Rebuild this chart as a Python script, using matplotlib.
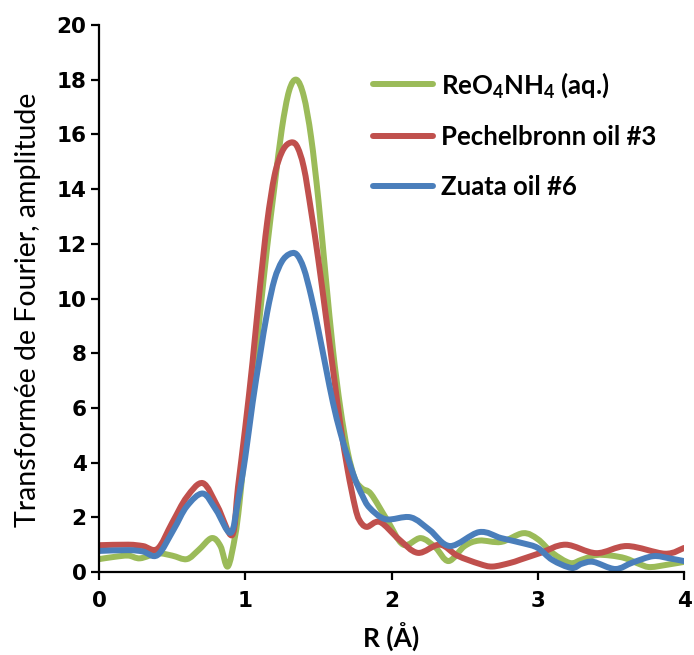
import matplotlib
matplotlib.use('Agg')
import matplotlib.pyplot as plt
from matplotlib.path import Path
from matplotlib.patches import PathPatch
from matplotlib.lines import Line2D
import numpy as np

plt.rcParams['mathtext.fontset'] = 'custom'
plt.rcParams['mathtext.rm'] = 'Lato'
plt.rcParams['mathtext.bf'] = 'Lato:bold'
plt.rcParams['mathtext.default'] = 'bf'

# ReO4NH4 (aq.)
x_reo4 = [0, 0.1, 0.2, 0.28, 0.4, 0.5, 0.6, 0.68, 0.77, 0.83, 0.88, 0.93, 0.96,
          1.0, 1.05, 1.1, 1.15, 1.2, 1.25, 1.3, 1.35, 1.4, 1.45, 1.5, 1.55, 1.6,
          1.65, 1.7, 1.75, 1.8, 1.86, 1.97, 2.08, 2.2, 2.3, 2.39, 2.5, 2.6, 2.75,
          2.9, 3.0, 3.1, 3.22, 3.3, 3.4, 3.5, 3.6, 3.7, 3.77, 3.9, 4.0]
y_reo4 = [0.47, 0.55, 0.6, 0.5, 0.68, 0.6, 0.47, 0.8, 1.24, 0.95, 0.2, 1.3, 2.5,
          4.6, 6.9, 9.4, 11.9, 14.1, 16.2, 17.6, 18.0, 17.4, 15.9, 13.6, 10.8, 8.1,
          6.0, 4.4, 3.4, 3.05, 2.85, 1.9, 1.0, 1.24, 0.9, 0.4, 0.95, 1.15, 1.1,
          1.42, 1.2, 0.7, 0.33, 0.45, 0.62, 0.6, 0.5, 0.28, 0.18, 0.28, 0.37]

# Pechelbronn oil #3
x_pech = [0, 0.2, 0.3, 0.4, 0.5, 0.6, 0.71, 0.81, 0.91, 0.95, 1.0, 1.05, 1.1,
          1.15, 1.2, 1.25, 1.3, 1.35, 1.4, 1.45, 1.5, 1.55, 1.6, 1.65, 1.7, 1.75,
          1.78, 1.83, 1.92, 2.05, 2.18, 2.33, 2.45, 2.6, 2.69, 2.81, 2.88, 3.02,
          3.19, 3.4, 3.61, 3.87, 4.0]
y_pech = [0.98, 1.0, 0.95, 0.85, 1.8, 2.74, 3.25, 2.4, 1.35, 3.1, 5.3, 7.7, 10.4,
          12.8, 14.5, 15.35, 15.68, 15.6, 14.8, 13.2, 11.4, 9.4, 7.4, 5.4, 3.73, 2.4,
          1.9, 1.65, 1.83, 1.2, 0.7, 1.0, 0.6, 0.3, 0.2, 0.33, 0.45, 0.7,
          1.0, 0.69, 0.95, 0.67, 0.88]

# Zuata oil #6
x_zuata = [0, 0.2, 0.3, 0.4, 0.51, 0.6, 0.71, 0.8, 0.90, 0.95, 1.0, 1.05, 1.1,
           1.15, 1.2, 1.25, 1.3, 1.35, 1.4, 1.45, 1.5, 1.55, 1.6, 1.65, 1.7, 1.75,
           1.8, 1.85, 1.96, 2.13, 2.26, 2.4, 2.6, 2.75, 2.9, 3.0, 3.1, 3.23, 3.3,
           3.38, 3.53, 3.65, 3.79, 3.9, 4.0]
y_zuata = [0.77, 0.8, 0.75, 0.62, 1.55, 2.4, 2.87, 2.27, 1.43, 2.6, 4.2, 6.18, 7.9,
           9.5, 10.7, 11.35, 11.62, 11.62, 11.1, 10.1, 8.85, 7.5, 6.18, 5.1, 4.2, 3.4,
           2.8, 2.35, 1.93, 2.0, 1.54, 0.95, 1.46, 1.24, 1.05, 0.88, 0.44, 0.15, 0.3,
           0.37, 0.11, 0.35, 0.58, 0.5, 0.4]

labels = [r'ReO$_4$NH$_4$ (aq.)', 'Pechelbronn oil #3', 'Zuata oil #6']
colors = ['#9BBB59', '#C0504D', '#4A7EBB']
LW = 4.3


def smooth_path(xs, ys):
    # Excel-style smoothed line: cubic Bezier through the data points
    p = np.column_stack([xs, ys])
    n = len(p)
    verts = [p[0]]
    codes = [Path.MOVETO]
    for i in range(n - 1):
        p0 = p[i - 1] if i > 0 else p[i]
        p3 = p[i + 2] if i + 2 < n else p[i + 1]
        c1 = p[i] + (p[i + 1] - p0) / 6
        c2 = p[i + 1] - (p3 - p[i]) / 6
        verts += [c1, c2, p[i + 1]]
        codes += [Path.CURVE4] * 3
    return Path(verts, codes)


fig = plt.figure(figsize=(6.94, 6.55), dpi=100)
ax = fig.add_axes([0.1427, 0.1267, 0.8429, 0.8351])

series = [(x_reo4, y_reo4), (x_pech, y_pech), (x_zuata, y_zuata)]
handles = []
for (xs, ys), c, lab in zip(series, colors, labels):
    ax.add_patch(PathPatch(smooth_path(xs, ys), facecolor='none', edgecolor=c,
                           lw=LW, capstyle='round', joinstyle='round'))
    handles.append(Line2D([], [], color=c, lw=LW, solid_capstyle='round', label=lab))

ax.set_xlim(0, 4)
ax.set_ylim(0, 20)
ax.set_xticks([0, 1, 2, 3, 4])
ax.set_yticks(range(0, 21, 2))
for s in ['top', 'right']:
    ax.spines[s].set_visible(False)
for s in ['left', 'bottom']:
    ax.spines[s].set_linewidth(1.6)
ax.tick_params(direction='out', length=6, width=1.6, labelsize=15.5)
ax.tick_params(axis='x', pad=8)
ax.tick_params(axis='y', pad=3)
for lab in ax.get_xticklabels() + ax.get_yticklabels():
    lab.set_fontweight('bold')

ax.set_xlabel('R (Å)', family='Lato', fontweight='bold', fontsize=19)
ax.xaxis.set_label_coords(0.5, -0.093)
ax.set_ylabel('Transformée de Fourier, amplitude', family='Lato', fontsize=20.5)
ax.yaxis.set_label_coords(-0.100, 0.48)

leg = ax.legend(handles=handles, loc='upper left', bbox_to_anchor=(0.428, 0.960),
                frameon=False, prop={'family': 'Lato', 'weight': 'bold', 'size': 18.5},
                handlelength=2.35, handletextpad=0.3, labelspacing=1.0)

fig.savefig('out.png', dpi=100)
